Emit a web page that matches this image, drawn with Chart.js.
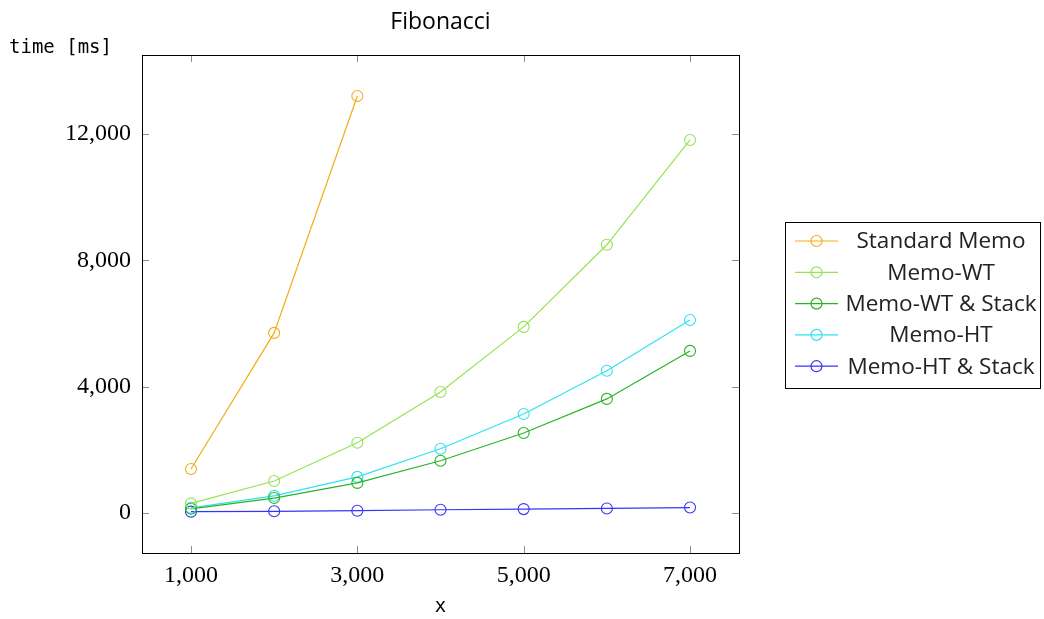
<!DOCTYPE html>
<html>
<head>
<meta charset="utf-8">
<script src="https://cdn.jsdelivr.net/npm/chart.js@4.4.1/dist/chart.umd.min.js"></script>
<style>
  html, body { margin: 0; padding: 0; background: #fff; }
  #wrap { width: 1044px; height: 619px; }
</style>
</head>
<body>
<div id="wrap"><canvas id="fibChart" width="1044" height="619"></canvas></div>
<script>
const xValues = [1000, 2000, 3000, 4000, 5000, 6000, 7000];
const standardMemo = [1390, 5700, 13200];
const memoWT = [300, 1010, 2220, 3830, 5890, 8490, 11810];
const memoWTStack = [130, 470, 950, 1650, 2530, 3610, 5130];
const memoHT = [160, 540, 1140, 2030, 3130, 4500, 6110];
const memoHTStack = [40, 50, 70, 100, 120, 140, 170];
const seriesLabels = ['Standard Memo', 'Memo-WT', 'Memo-WT & Stack', 'Memo-HT', 'Memo-HT & Stack'];
const seriesColors = ['#f2ad17', '#95e354', '#28b428', '#2fe2ef', '#3535f5'];
const xTicks = [1000, 3000, 5000, 7000];
const yTicks = [0, 4000, 8000, 12000];

const allSeries = [standardMemo, memoWT, memoWTStack, memoHT, memoHTStack];

const datasets = allSeries.map((vals, i) => ({
  label: seriesLabels[i],
  data: vals.map((v, j) => ({ x: xValues[j], y: v })),
  borderColor: seriesColors[i],
  backgroundColor: 'rgba(0,0,0,0)',
  borderWidth: 1.2,
  pointRadius: 5.5,
  pointBorderWidth: 1.1,
  pointBackgroundColor: 'rgba(0,0,0,0)',
  pointBorderColor: seriesColors[i],
  tension: 0
}));

// frame, inside ticks, title, axis labels and legend box
const decorPlugin = {
  id: 'decor',
  afterDraw(chart) {
    const { ctx, chartArea: a, scales } = chart;
    ctx.save();
    // tick marks (inside, mirrored)
    ctx.strokeStyle = '#8c8c8c';
    ctx.lineWidth = 1;
    xTicks.forEach(t => {
      const px = Math.round(scales.x.getPixelForValue(t)) + 0.5;
      ctx.beginPath();
      ctx.moveTo(px, a.bottom); ctx.lineTo(px, a.bottom - 7);
      ctx.moveTo(px, a.top); ctx.lineTo(px, a.top + 7);
      ctx.stroke();
    });
    yTicks.forEach(t => {
      const py = Math.round(scales.y.getPixelForValue(t)) + 0.5;
      ctx.beginPath();
      ctx.moveTo(a.left, py); ctx.lineTo(a.left + 7, py);
      ctx.moveTo(a.right, py); ctx.lineTo(a.right - 7, py);
      ctx.stroke();
    });
    // frame
    ctx.strokeStyle = '#000';
    ctx.strokeRect(Math.round(a.left) + 0.5, Math.round(a.top) + 0.5,
      Math.round(a.right - a.left), Math.round(a.bottom - a.top));

    // title + axis labels
    ctx.fillStyle = '#000';
    ctx.textBaseline = 'middle';
    ctx.textAlign = 'center';
    ctx.font = '23px "Open Sans", "Noto Sans", sans-serif';
    ctx.fillText('Fibonacci', (a.left + a.right) / 2, 22);
    ctx.font = '19px "DejaVu Sans Mono", monospace';
    ctx.fillText('x', (a.left + a.right) / 2, 607);
    ctx.textAlign = 'left';
    ctx.fillText('time [ms]', 9, 48);

    // legend
    const bx = 785, by = 222, bw = 255, bh = 166;
    ctx.strokeStyle = '#000';
    ctx.strokeRect(bx + 0.5, by + 0.5, bw, bh);
    ctx.font = '22.5px "Open Sans", "Noto Sans", sans-serif';
    ctx.textAlign = 'center';
    seriesLabels.forEach((lab, i) => {
      const ry = 241 + i * 31.3;
      ctx.strokeStyle = seriesColors[i];
      ctx.lineWidth = 1.2;
      ctx.beginPath();
      ctx.moveTo(795, ry); ctx.lineTo(838, ry);
      ctx.stroke();
      ctx.beginPath();
      ctx.arc(816.5, ry, 5.5, 0, Math.PI * 2);
      ctx.stroke();
      ctx.fillStyle = '#222';
      ctx.fillText(lab, 941, ry + 1);
    });
    ctx.restore();
  }
};

new Chart(document.getElementById('fibChart'), {
  type: 'line',
  data: { datasets },
  plugins: [decorPlugin],
  options: {
    responsive: false,
    animation: false,
    layout: { padding: { top: 55, right: 305, bottom: 0, left: 0 } },
    plugins: { legend: { display: false }, title: { display: false }, tooltip: { enabled: false } },
    scales: {
      x: {
        type: 'linear',
        min: 411,
        max: 7589,
        grid: { display: false },
        border: { display: false },
        afterBuildTicks: s => { s.ticks = xTicks.map(v => ({ value: v })); },
        afterFit: s => { s.height = 66; },
        ticks: {
          color: '#000',
          padding: 0,
          maxRotation: 0,
          font: { family: '"Liberation Serif", serif', size: 24 },
          callback: v => v.toLocaleString('en-US')
        }
      },
      y: {
        type: 'linear',
        min: -1270,
        max: 14500,
        grid: { display: false },
        border: { display: false },
        afterBuildTicks: s => { s.ticks = yTicks.map(v => ({ value: v })); },
        afterFit: s => { s.width = 142; },
        ticks: {
          color: '#000',
          padding: 3,
          font: { family: '"Liberation Serif", serif', size: 24 },
          callback: v => v.toLocaleString('en-US')
        }
      }
    }
  }
});
</script>
</body>
</html>
